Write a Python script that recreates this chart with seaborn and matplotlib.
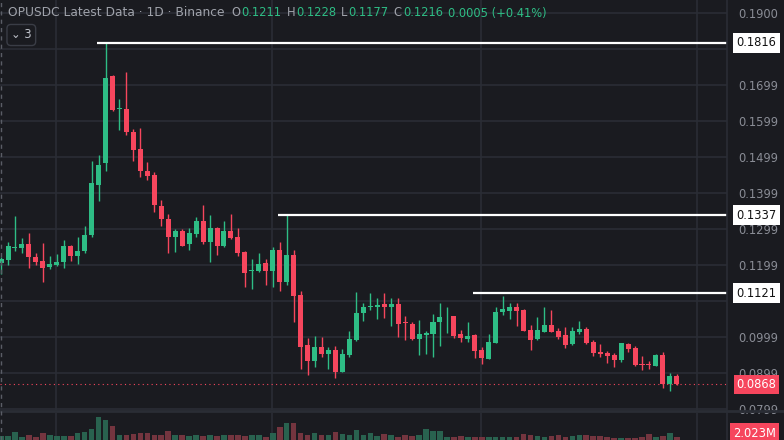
import numpy as np
import pandas as pd
import seaborn as sns
import matplotlib.pyplot as plt
import matplotlib.transforms as mtransforms

# OHLC per candle (1D)
opens = [0.1204, 0.1214, 0.1246, 0.1247, 0.1258, 0.1221, 0.1211, 0.1194, 0.1199, 0.1206,
         0.1253, 0.1224, 0.1239, 0.1281, 0.1422, 0.1481, 0.1725, 0.1631, 0.1633, 0.1569,
         0.1522, 0.1461, 0.1449, 0.1364, 0.1328, 0.1278, 0.1294, 0.1256, 0.1286, 0.1322,
         0.1264, 0.1302, 0.1251, 0.1294, 0.1277, 0.1234, 0.1181, 0.1181, 0.1204, 0.1181,
         0.1241, 0.1151, 0.1227, 0.1116, 0.0977, 0.0931, 0.0972, 0.0953, 0.0964, 0.0903,
         0.0949, 0.0991, 0.1067, 0.1083, 0.1081, 0.1091, 0.1083, 0.1092, 0.1039, 0.1036,
         0.0994, 0.1004, 0.1008, 0.1041, 0.1056, 0.1056, 0.1006, 0.0994, 0.1004, 0.0963,
         0.0938, 0.0983, 0.1068, 0.1071, 0.1083, 0.1074, 0.1018, 0.0993, 0.1014, 0.1031,
         0.1017, 0.1004, 0.0980, 0.1014, 0.1021, 0.0986, 0.0958, 0.0954, 0.0949, 0.0935,
         0.0980, 0.0969, 0.0924, 0.0924, 0.0918, 0.0949, 0.0868, 0.0891]
highs = [0.1220, 0.1264, 0.1334, 0.1274, 0.1289, 0.1231, 0.1259, 0.1225, 0.1229, 0.1269,
         0.1255, 0.1277, 0.1308, 0.1489, 0.1505, 0.1816, 0.1727, 0.1661, 0.1734, 0.1578,
         0.1579, 0.1484, 0.1458, 0.1379, 0.1341, 0.1299, 0.1298, 0.1303, 0.1333, 0.1366,
         0.1339, 0.1305, 0.1321, 0.1341, 0.1302, 0.1237, 0.1215, 0.1231, 0.1215, 0.1248,
         0.1262, 0.1337, 0.1241, 0.1126, 0.0996, 0.1003, 0.1000, 0.0972, 0.0974, 0.0966,
         0.1016, 0.1125, 0.1094, 0.1121, 0.1106, 0.1121, 0.1108, 0.1106, 0.1058, 0.1041,
         0.1046, 0.1017, 0.1063, 0.1094, 0.1083, 0.1057, 0.1018, 0.1041, 0.1006, 0.0970,
         0.1007, 0.1083, 0.1114, 0.1094, 0.1093, 0.1076, 0.1031, 0.1054, 0.1083, 0.1074,
         0.1023, 0.1028, 0.1028, 0.1043, 0.1028, 0.0991, 0.0980, 0.0961, 0.0955, 0.0983,
         0.0983, 0.0974, 0.0946, 0.0932, 0.0951, 0.0958, 0.0900, 0.0896]
lows = [0.1174, 0.1199, 0.1237, 0.1231, 0.1190, 0.1198, 0.1153, 0.1187, 0.1196, 0.1192,
        0.1211, 0.1203, 0.1233, 0.1276, 0.1376, 0.1459, 0.1626, 0.1574, 0.1561, 0.1489,
        0.1444, 0.1435, 0.1345, 0.1308, 0.1231, 0.1236, 0.1253, 0.1241, 0.1276, 0.1256,
        0.1208, 0.1227, 0.1248, 0.1271, 0.1224, 0.1137, 0.1132, 0.1180, 0.1144, 0.1139,
        0.1126, 0.1143, 0.1040, 0.0910, 0.0894, 0.0916, 0.0944, 0.0910, 0.0884, 0.0901,
        0.0944, 0.0989, 0.1043, 0.1074, 0.1050, 0.1051, 0.1030, 0.1000, 0.0991, 0.0991,
        0.0949, 0.0951, 0.0943, 0.0975, 0.1011, 0.0997, 0.0985, 0.0986, 0.0941, 0.0925,
        0.0938, 0.0983, 0.1059, 0.1048, 0.1030, 0.1016, 0.0963, 0.0991, 0.1014, 0.1014,
        0.0993, 0.0968, 0.0978, 0.1007, 0.0980, 0.0947, 0.0944, 0.0928, 0.0917, 0.0930,
        0.0957, 0.0918, 0.0907, 0.0911, 0.0918, 0.0858, 0.0850, 0.0866]
closes = [0.1216, 0.1251, 0.1249, 0.1256, 0.1222, 0.1206, 0.1191, 0.1202, 0.1206, 0.1251,
          0.1224, 0.1239, 0.1283, 0.1426, 0.1478, 0.1719, 0.1630, 0.1634, 0.1569, 0.1519,
          0.1459, 0.1447, 0.1365, 0.1327, 0.1278, 0.1294, 0.1253, 0.1289, 0.1322, 0.1264,
          0.1302, 0.1252, 0.1294, 0.1274, 0.1233, 0.1178, 0.1184, 0.1202, 0.1181, 0.1242,
          0.1151, 0.1227, 0.1114, 0.0972, 0.0931, 0.0972, 0.0953, 0.0964, 0.0903, 0.0952,
          0.0994, 0.1066, 0.1083, 0.1085, 0.1089, 0.1083, 0.1092, 0.1036, 0.1037, 0.0994,
          0.1006, 0.1010, 0.1041, 0.1054, 0.1058, 0.1003, 0.0996, 0.1001, 0.0961, 0.0941,
          0.0985, 0.1069, 0.1076, 0.1081, 0.1071, 0.1016, 0.0991, 0.1018, 0.1033, 0.1014,
          0.0998, 0.0978, 0.1017, 0.1021, 0.0983, 0.0955, 0.0951, 0.0946, 0.0935, 0.0981,
          0.0965, 0.0920, 0.0922, 0.0922, 0.0949, 0.0868, 0.0892, 0.0868]
# volume, millions
volumes = [3, 3, 6, 2.5, 3.8, 2, 5, 3.5, 3, 3, 3, 5, 6, 8.5, 17, 14.5, 10.5, 4, 3.8, 4.5,
           5.5, 5.5, 3.5, 3.5, 6.5, 3.5, 4, 3, 3.5, 3, 4, 3, 4, 3.5, 4, 3, 4, 3.5, 2.5, 5.5,
           9.5, 12.5, 12.5, 5, 4, 5.5, 4, 3.5, 6, 4.5, 4, 7.5, 4, 5, 3, 4.5, 3.5, 2.5, 3.5, 3,
           3.5, 8.5, 7, 7, 2, 2, 3, 2, 2.5, 2, 2.5, 2, 2, 2.5, 2, 4.5, 4, 3, 2.5, 3,
           4, 2.5, 3, 3.5, 3.5, 3, 3, 2.5, 1.5, 1.5, 1.5, 1.5, 2.5, 4.5, 2, 3, 5.5, 2.023]

price_ticks = [0.0799, 0.0899, 0.0999, 0.1099, 0.1199, 0.1299, 0.1399, 0.1499, 0.1599, 0.1699, 0.1799, 0.1900]
hidden_ticks = [0.1099, 0.1799]  # covered by level labels
time_grid = [7.9, 38.9, 68.9, 99.9]
levels = [(0.1816, 13.8), (0.1337, 39.7), (0.1121, 67.7)]
last_price = 0.0868
last_volume = "2.023M"
header = "OPUSDC Latest Data · 1D · Binance"
ohlc = [("O", "0.1211"), ("H", "0.1228"), ("L", "0.1177"), ("C", "0.1216")]
change = "0.0005 (+0.41%)"

BG = "#1a1b20"
GRID = "#2a2d35"
UP, DOWN = "#2ebd85", "#f6465d"
UP_V, DOWN_V = "#1f6b52", "#7e2b38"
TXT = "#8a8d96"

df = pd.DataFrame({"o": opens, "h": highs, "l": lows, "c": closes, "v": volumes})
df["i"] = np.arange(len(df))
df["dir"] = np.where(df.c >= df.o, "up", "down")

sns.set_style("dark", {"axes.facecolor": BG, "figure.facecolor": BG})
plt.rcParams["font.family"] = ["DejaVu Sans"]

fig = plt.figure(figsize=(7.84, 4.4), dpi=100)
fig.patch.set_facecolor(BG)
W, H = 784, 440
ax = fig.add_axes([0, 30 / H, 727 / W, 410 / H])
axv = fig.add_axes([0, 0, 727 / W, 27 / H])
xlim = (-0.15, 104.2)

# candles
col = np.where(df.dir == "up", UP, DOWN)
ax.vlines(df.i, df.l, df.h, colors=col, lw=1, zorder=3)
body = (df.c - df.o).abs().clip(lower=0.00025)
ax.bar(df.i, body, bottom=np.minimum(df.o, df.c), width=0.72, color=col, zorder=4, linewidth=0)
ax.set_xlim(*xlim)
ax.set_ylim(0.07962, 0.19351)
ax.yaxis.tick_right()
ax.set_yticks(price_ticks)
ax.set_yticklabels(["" if t in hidden_ticks else f"{t:.4f}" for t in price_ticks])
ax.set_xticks(time_grid)
ax.tick_params(axis="y", length=0, pad=8, labelcolor=TXT, labelsize=8.3)
ax.tick_params(axis="x", length=0, labelbottom=False)
ax.grid(True, color=GRID, lw=1.2)
for s in ax.spines.values():
    s.set_visible(False)

# level lines
tr = mtransforms.blended_transform_factory(ax.transAxes, ax.transData)
for p, x0 in levels:
    ax.hlines(p, x0, xlim[1], color="white", lw=1.6, zorder=5)
    ax.text(1.013, p, f"{p:.4f}", transform=tr, ha="left", va="center", fontsize=8.3, color="#111",
            bbox=dict(boxstyle="square,pad=0.3", fc="white", ec="none"), zorder=6, clip_on=False)
ax.axhline(last_price, color=DOWN, lw=0.8, ls=(0, (1, 3)), zorder=2)
ax.text(1.013, last_price, f"{last_price:.4f}", transform=tr, ha="left", va="center", fontsize=8.3,
        color="white", bbox=dict(boxstyle="square,pad=0.25", fc=DOWN, ec="none"), zorder=6, clip_on=False)

# volume pane
sns.barplot(data=df, x="i", y="v", hue="dir", palette={"up": UP_V, "down": DOWN_V},
            dodge=False, width=0.8, legend=False, ax=axv, linewidth=0, native_scale=True)
axv.set_xlim(*xlim)
axv.set_ylim(0, 20)
axv.set_facecolor(BG)
axv.set_xticks(time_grid)
axv.set_yticks([])
axv.grid(True, axis="x", color=GRID, lw=1.2)
axv.tick_params(length=0, labelbottom=False)
axv.set_xlabel("")
axv.set_ylabel("")
for s in axv.spines.values():
    s.set_visible(False)
fig.text(733 / W, 7 / H, last_volume, ha="left", va="center", fontsize=8.3, color="white",
         bbox=dict(boxstyle="square,pad=0.3", fc=DOWN, ec="none"))

# pane separators
fig.add_artist(plt.Line2D([0, 1], [1 - 411 / H] * 2, color=GRID, lw=2))
fig.add_artist(plt.Line2D([727 / W] * 2, [0, 1], color=GRID, lw=1.2))
fig.add_artist(plt.Line2D([1 / W] * 2, [0, 1], color="#5a5d66", lw=1, ls=(0, (3, 3))))

# header, chained left to right
renderer = fig.canvas.get_renderer()
hy = 1 - 13 / H
t = fig.text(8 / W, hy, header, color="#a0a3ab", fontsize=8.8, va="center")
x = t.get_window_extent(renderer).x1 + 7
for lab, val in ohlc:
    t = fig.text(x / W, hy, lab, color="#a0a3ab", fontsize=8.3, va="center")
    x = t.get_window_extent(renderer).x1 + 1
    t = fig.text(x / W, hy, val, color=UP, fontsize=8.3, va="center")
    x = t.get_window_extent(renderer).x1 + 5
fig.text(x / W, hy, change, color=UP, fontsize=8.3, va="center")
fig.text(11 / W, 1 - 35 / H, "⌄ 3", color="#c0c3cb", fontsize=8.3, va="center",
         bbox=dict(boxstyle="round,pad=0.35", fc=BG, ec="#3a3d46"))

fig.savefig("out.png", dpi=100, facecolor=BG)
